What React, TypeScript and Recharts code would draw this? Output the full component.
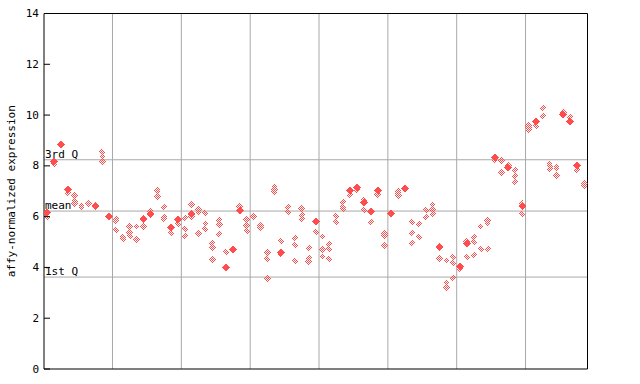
import React from 'react';
import { ScatterChart, Scatter, XAxis, YAxis, ReferenceLine } from 'recharts';

const RED = '#ff4d4d';
const GRID = '#a8a8a8';

// column index 0..78 (samples)
const solidValues: (number | null)[] = [
  6.16, 8.16, 8.85, 7.06, null, null, null, 6.43, null, 5.99,
  null, null, null, null, 5.9, 6.1, null, null, 5.58, 5.88,
  null, 6.1, null, null, null, null, 3.99, 4.69, 6.24, null,
  null, null, null, null, 4.6, null, null, null, null, 5.81,
  null, null, null, null, 7.03, 7.15, 6.56, 6.2, 7.03, null,
  6.12, null, 7.12, null, null, null, null, 4.82, null, null,
  4.03, 4.96, null, null, null, 8.33, null, 7.94, null, 6.42,
  null, 9.75, null, null, null, 10.02, 9.75, 8.02, null,
];

const hatchedValues: number[][] = [
  [5.98], [8.07], [], [6.93], [6.85, 6.62, 6.53], [6.43, 6.37], [6.56, 6.5], [], [8.54, 8.37, 8.17], [],
  [5.92, 5.84, 5.48], [5.19, 5.13], [5.61, 5.39, 5.24], [5.62, 5.11], [5.61], [6.23], [7.06, 6.99, 6.78], [6.38, 5.98, 5.91], [5.36], [5.72],
  [5.94, 5.51, 5.24], [6.49, 6.01], [6.3, 6.16, 5.35], [6.14, 5.72, 5.51], [4.96, 4.8, 4.3], [5.88, 5.68, 5.31], [4.6], [], [6.4], [5.9, 5.65, 5.44],
  [6.02], [5.64, 5.55], [4.6, 4.33, 3.58], [7.19, 7.06, 6.97], [5.05, 4.52], [6.38, 6.18], [5.15, 4.88, 4.26], [6.33, 6.07, 5.9], [4.76, 4.37, 4.23], [5.4],
  [5.23, 4.72, 4.44], [4.93, 4.72, 4.33], [6.02, 5.78], [6.57, 6.38, 6.3], [6.85], [7.06], [6.66, 6.27], [5.78], [6.85], [5.35, 5.26, 4.88],
  [], [7.02, 6.93, 6.83], [], [5.78, 5.35, 4.96], [5.71, 5.19], [6.26, 5.98], [6.47, 6.3, 6.1], [4.33], [4.28, 3.4, 3.22], [4.4, 4.17, 3.58],
  [3.94], [5.02, 4.4], [5.19, 5.0, 4.48], [5.61, 4.72], [5.84, 5.73, 4.72], [8.21], [8.19, 7.72], [8.03], [7.85, 7.6, 7.37], [6.51, 6.1],
  [9.59, 9.51, 9.42], [9.58], [10.28, 9.96], [8.1, 8.0, 7.87], [7.98, 7.91, 7.64], [10.11], [9.92], [7.85], [7.3, 7.22],
];

const groupBoundaries = [9.5, 19.5, 29.5, 39.5, 49.5, 59.5, 69.5];
const yTicks = [0, 2, 4, 6, 8, 10, 12, 14];
const quartiles = [
  { label: '3rd Q', value: 8.24 },
  { label: 'mean', value: 6.22 },
  { label: '1st Q', value: 3.62 },
];

const solidData = solidValues
  .map((v, i) => (v == null ? null : { x: i, y: v }))
  .filter((d) => d !== null) as { x: number; y: number }[];
const hatchedData = hatchedValues.flatMap((arr, i) => arr.map((v) => ({ x: i, y: v })));

const W = 640;
const H = 384;
const LEFT_W = 44;
const RIGHT_W = 52.5;
const PLOT_RIGHT = W - RIGHT_W;
const FONT = '"DejaVu Sans Mono", monospace';

const SolidShape = (props: any) => {
  const { cx, cy } = props;
  if (cx == null || cy == null) return null;
  const r = 4;
  return (
    <polygon
      points={`${cx},${cy - r} ${cx + r},${cy} ${cx},${cy + r} ${cx - r},${cy}`}
      fill={RED}
      shapeRendering="crispEdges"
    />
  );
};

const HatchedShape = (props: any) => {
  const { cx, cy } = props;
  if (cx == null || cy == null) return null;
  const r = 3.6;
  return (
    <polygon
      points={`${cx},${cy - r} ${cx + r},${cy} ${cx},${cy + r} ${cx - r},${cy}`}
      fill="url(#checker)"
      shapeRendering="crispEdges"
    />
  );
};

const LeftTick = (props: any) => {
  const { y, payload } = props;
  return (
    <g>
      <line x1={LEFT_W} x2={LEFT_W + 6} y1={y} y2={y} stroke="#000" />
      <text
        x={39}
        y={y}
        textAnchor="end"
        dominantBaseline="central"
        fontFamily={FONT}
        fontSize={11}
        fill="#000"
      >
        {payload.value}
      </text>
    </g>
  );
};

const RightTick = (props: any) => {
  const { y } = props;
  return <line x1={PLOT_RIGHT - 6} x2={PLOT_RIGHT} y1={y} y2={y} stroke="#000" />;
};

const YTitle = (props: any) => {
  const vb = props.viewBox || { x: 0, y: 13.5, width: 44, height: 355.5 };
  const cx = 11;
  const cy = vb.y + vb.height / 2;
  return (
    <text
      x={cx}
      y={cy}
      transform={`rotate(-90, ${cx}, ${cy})`}
      textAnchor="middle"
      dominantBaseline="central"
      fontFamily={FONT}
      fontSize={11}
      fill="#000"
    >
      affy-normalized expression
    </text>
  );
};

const quartileLabel = (text: string) => (props: any) => {
  const vb = props.viewBox;
  if (!vb) return null;
  return (
    <text x={vb.x + 1} y={vb.y - 2} fontFamily={FONT} fontSize={11} fill="#000">
      {text}
    </text>
  );
};

export default function App() {
  return (
    <div style={{ position: 'absolute', left: 0, top: 0, width: W, height: H, background: '#fff' }}>
      <svg width={0} height={0} style={{ position: 'absolute' }}>
        <defs>
          <pattern id="checker" width="2" height="2" patternUnits="userSpaceOnUse">
            <rect x={0} y={0} width={1} height={1} fill={RED} />
            <rect x={1} y={1} width={1} height={1} fill={RED} />
          </pattern>
        </defs>
      </svg>
      <ScatterChart width={W} height={H} margin={{ top: 13.5, right: 0, bottom: 0, left: 0 }}>
        <XAxis
          type="number"
          dataKey="x"
          domain={[-0.45, 78.5]}
          allowDataOverflow
          tick={false}
          tickLine={false}
          axisLine={{ stroke: '#000' }}
          height={15}
        />
        <YAxis
          yAxisId="l"
          type="number"
          dataKey="y"
          domain={[0, 14]}
          ticks={yTicks}
          width={LEFT_W}
          tickLine={false}
          tick={<LeftTick />}
          axisLine={{ stroke: '#000' }}
          label={<YTitle />}
          interval={0}
        />
        <YAxis
          yAxisId="r"
          orientation="right"
          type="number"
          domain={[0, 14]}
          ticks={yTicks}
          width={RIGHT_W}
          tickLine={false}
          tick={<RightTick />}
          axisLine={{ stroke: '#000' }}
          interval={0}
        />
        {groupBoundaries.map((b) => (
          <ReferenceLine key={'g' + b} x={b} yAxisId="l" stroke={GRID} strokeWidth={1} />
        ))}
        {quartiles.map((q) => (
          <ReferenceLine
            key={q.label}
            y={q.value}
            yAxisId="l"
            stroke={GRID}
            strokeWidth={1}
            label={quartileLabel(q.label)}
          />
        ))}
        <ReferenceLine y={14} yAxisId="l" stroke="#000" strokeWidth={1} />
        <Scatter
          yAxisId="l"
          data={hatchedData}
          shape={<HatchedShape />}
          isAnimationActive={false}
        />
        <Scatter
          yAxisId="l"
          data={solidData}
          shape={<SolidShape />}
          isAnimationActive={false}
        />
      </ScatterChart>
    </div>
  );
}
